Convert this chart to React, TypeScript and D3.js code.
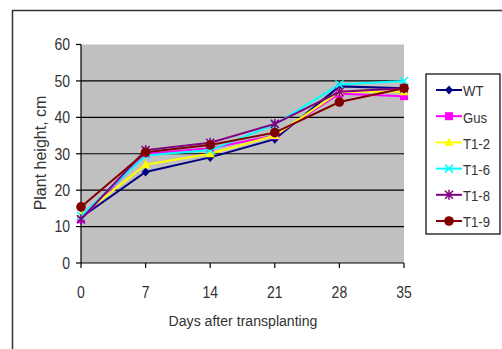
import React from "react";
import * as d3 from "d3";

const days = [0, 7, 14, 21, 28, 35];
const seriesNames = ["WT", "Gus", "T1-2", "T1-6", "T1-8", "T1-9"];
const wt = [12.5, 25, 29, 34, 48.5, 48];
const gus = [12, 30, 31.5, 35, 46.5, 45.8];
const t12 = [13, 27, 30, 35, 47, 47];
const t16 = [13, 29.5, 31, 38, 49, 50];
const t18 = [12, 31, 33, 38.2, 47, 48];
const t19 = [15.4, 30.4, 32.4, 35.8, 44.2, 48];
const yTicks = [0, 10, 20, 30, 40, 50, 60];
const colors = ["#000080", "#FF00FF", "#FFFF00", "#00FFFF", "#800080", "#800000"];
const markers = ["diamond", "square", "triangle", "x", "asterisk", "circle"];
const values = [wt, gus, t12, t16, t18, t19];

const W = 502, H = 349;
const left = 81, right = 404, top = 44.5, bottom = 263;

function Marker({ type, x, y, color }: { type: string; x: number; y: number; color: string }) {
  switch (type) {
    case "diamond":
      return <path d={`M${x},${y - 4.5}L${x + 4},${y}L${x},${y + 4.5}L${x - 4},${y}Z`} fill={color} />;
    case "square":
      return <rect x={x - 4} y={y - 4} width={8} height={8} fill={color} />;
    case "triangle":
      return <path d={`M${x},${y - 5}L${x + 4.5},${y + 3.5}L${x - 4.5},${y + 3.5}Z`} fill={color} />;
    case "x":
      return (
        <path d={`M${x - 4},${y - 4}L${x + 4},${y + 4}M${x - 4},${y + 4}L${x + 4},${y - 4}`} stroke={color} strokeWidth={1.5} />
      );
    case "asterisk":
      return (
        <path
          d={`M${x - 4},${y - 4}L${x + 4},${y + 4}M${x - 4},${y + 4}L${x + 4},${y - 4}M${x},${y - 5}L${x},${y + 5}`}
          stroke={color}
          strokeWidth={1.5}
        />
      );
    default:
      return <circle cx={x} cy={y} r={4.8} fill={color} />;
  }
}

export default function App() {
  const x = d3.scaleLinear().domain([0, 35]).range([left, right]);
  const y = d3.scaleLinear().domain([0, 60]).range([bottom, top]);
  const line = d3
    .line<number>()
    .x((_, i) => x(days[i]))
    .y((d) => y(d));
  const font = "'Liberation Sans', Arial, sans-serif";
  const legX = 426, legY = 74, legW = 74, legH = 160;
  return (
    <svg width={W} height={H} style={{ position: "absolute", left: 0, top: 0 }} fontFamily={font}>
      <rect x={0} y={0} width={W} height={H} fill="#fff" />
      <path d={`M12.5,${H}V10.5H${W}`} fill="none" stroke="#333" strokeWidth={1.5} />
      <rect x={left} y={top} width={right - left} height={bottom - top} fill="#C0C0C0" />
      {yTicks.map((t) => (
        <g key={t}>
          {t > 0 && t < 60 && <line x1={left} x2={right} y1={y(t)} y2={y(t)} stroke="#000" strokeWidth={1.2} />}
          <line x1={left - 5} x2={left} y1={y(t)} y2={y(t)} stroke="#000" strokeWidth={1.2} />
          <text
            x={70}
            y={y(t)}
            textAnchor="end"
            dominantBaseline="central"
            fontSize={16.5}
            fill="#333"
            transform={`translate(70,0) scale(0.85,1) translate(-70,0)`}
          >
            {t}
          </text>
        </g>
      ))}
      <line x1={left} x2={left} y1={top} y2={bottom} stroke="#000" strokeWidth={1.2} />
      <line x1={left} x2={right} y1={bottom} y2={bottom} stroke="#000" strokeWidth={1.2} />
      {days.map((d) => (
        <g key={d}>
          <line x1={x(d)} x2={x(d)} y1={bottom} y2={bottom + 5} stroke="#000" strokeWidth={1.2} />
          <text
            x={x(d)}
            y={292}
            textAnchor="middle"
            dominantBaseline="central"
            fontSize={16.5}
            fill="#333"
            transform={`translate(${x(d)},0) scale(0.85,1) translate(${-x(d)},0)`}
          >
            {d}
          </text>
        </g>
      ))}
      <text
        x={243}
        y={321}
        textAnchor="middle"
        dominantBaseline="central"
        fontSize={15}
        fill="#333"
        transform="translate(243,0) scale(0.94,1) translate(-243,0)"
      >
        Days after transplanting
      </text>
      <text
        transform="translate(40,153) rotate(-90)"
        textAnchor="middle"
        dominantBaseline="central"
        fontSize={16}
        fill="#333"
      >
        Plant height, cm
      </text>
      {values.map((vals, si) => (
        <g key={si}>
          <path d={line(vals) || ""} fill="none" stroke={colors[si]} strokeWidth={2} />
          {vals.map((v, i) => (
            <Marker key={i} type={markers[si]} x={x(days[i])} y={y(v)} color={colors[si]} />
          ))}
        </g>
      ))}
      <rect x={legX} y={legY} width={legW} height={legH} fill="#fff" stroke="#000" strokeWidth={1.2} />
      {seriesNames.map((n, i) => {
        const ly = 90 + i * 26.2;
        return (
          <g key={n}>
            <line x1={436} x2={462} y1={ly} y2={ly} stroke={colors[i]} strokeWidth={2} />
            <Marker type={markers[i]} x={449} y={ly} color={colors[i]} />
            <text
              x={463}
              y={ly + 1}
              dominantBaseline="central"
              fontSize={15.5}
              fill="#333"
              transform={`translate(463,0) scale(0.85,1) translate(-463,0)`}
            >
              {n}
            </text>
          </g>
        );
      })}
    </svg>
  );
}
